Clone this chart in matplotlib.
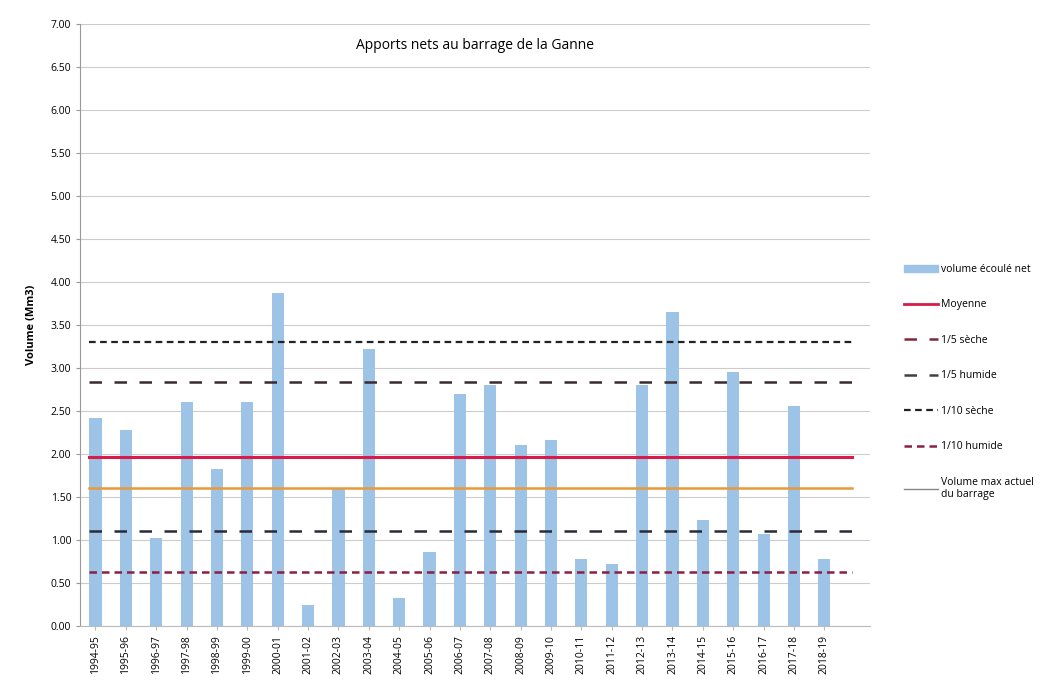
import matplotlib
matplotlib.use("Agg")
import matplotlib.pyplot as plt
from matplotlib.lines import Line2D
from matplotlib.patches import Patch
import numpy as np

years = ["1994-95","1995-96","1996-97","1997-98","1998-99","1999-00","2000-01","2001-02",
         "2002-03","2003-04","2004-05","2005-06","2006-07","2007-08","2008-09","2009-10",
         "2010-11","2011-12","2012-13","2013-14","2014-15","2015-16","2016-17","2017-18","2018-19"]
volume = [2.42, 2.28, 1.03, 2.60, 1.83, 2.60, 3.87, 0.25, 1.60, 3.22, 0.33, 0.86, 2.70,
          2.80, 2.10, 2.16, 0.78, 0.72, 2.80, 3.65, 1.23, 2.95, 1.07, 2.56, 0.78]
moyenne = 1.97
cinq_seche = 2.84
cinq_humide = 1.10
dix_seche = 3.30
dix_humide = 0.63
vol_max = 1.60
yticks = np.arange(0, 7.01, 0.5)

plt.rcParams['font.family'] = ['Open Sans', 'DejaVu Sans']
fig = plt.figure(figsize=(10.43, 6.88), dpi=100)
ax = fig.add_axes([0.077, 0.09, 0.757, 0.875])

x = np.arange(len(years))
bar_color = '#9dc3e6'
ax.bar(x, volume, width=0.4, color=bar_color, zorder=2)

x0, x1 = -0.2, len(years) - 0.1
ax.plot([x0, x1], [moyenne]*2, color='#d81b4a', lw=2.2, zorder=3)
ax.plot([x0, x1], [vol_max]*2, color='#e8993a', lw=1.8, zorder=3)
ax.plot([x0, x1], [cinq_seche]*2, color='#3a2a30', lw=1.8, ls=(0, (5, 5)), zorder=3)
ax.plot([x0, x1], [cinq_humide]*2, color='#2a2a38', lw=1.8, ls=(0, (5, 5)), zorder=3)
ax.plot([x0, x1], [dix_seche]*2, color='#222222', lw=1.6, ls=(0, (3, 2)), zorder=3)
ax.plot([x0, x1], [dix_humide]*2, color='#8b2040', lw=1.8, ls=(0, (3, 2)), zorder=3)

ax.set_xlim(-0.5, len(years) + 0.5)
ax.set_ylim(0, 7)
ax.set_yticks(yticks)
ax.set_yticklabels([f"{v:.2f}" for v in yticks], fontsize=7.5)
ax.set_xticks(x)
ax.set_xticklabels(years, rotation=90, fontsize=7.5)
ax.yaxis.grid(True, color='#cccccc', lw=0.8, zorder=0)
ax.set_axisbelow(True)
for s in ['top', 'right']:
    ax.spines[s].set_visible(False)
ax.spines['left'].set_color('#999999')
ax.spines['bottom'].set_color('#bbbbbb')
ax.tick_params(axis='y', length=3, color='#999999')
ax.tick_params(axis='x', length=3, color='#bbbbbb')
ax.set_ylabel("Volume (Mm3)", fontsize=8, fontweight='bold', labelpad=10)
ax.text(0.5, 0.965, "Apports nets au barrage de la Ganne", transform=ax.transAxes,
        ha='center', va='center', fontsize=10)

handles = [
    Patch(color=bar_color),
    Line2D([], [], color='#d81b4a', lw=2),
    Line2D([], [], color='#7b2b3b', lw=1.8, ls=(0, (5, 5))),
    Line2D([], [], color='#404040', lw=1.8, ls=(0, (5, 5))),
    Line2D([], [], color='#222222', lw=1.6, ls=(0, (3, 2))),
    Line2D([], [], color='#8b2040', lw=1.8, ls=(0, (3, 2))),
    Line2D([], [], color='#888888', lw=1.0),
]
labels = ["volume écoulé net", "Moyenne", "1/5 sèche", "1/5 humide", "1/10 sèche",
          "1/10 humide", "Volume max actuel\ndu barrage"]
fig.legend(handles, labels, loc='upper left', bbox_to_anchor=(0.858, 0.63), frameon=False,
           fontsize=7.5, labelspacing=2.35, handlelength=3.2, handletextpad=0.3)

fig.savefig("out.png", dpi=100)
